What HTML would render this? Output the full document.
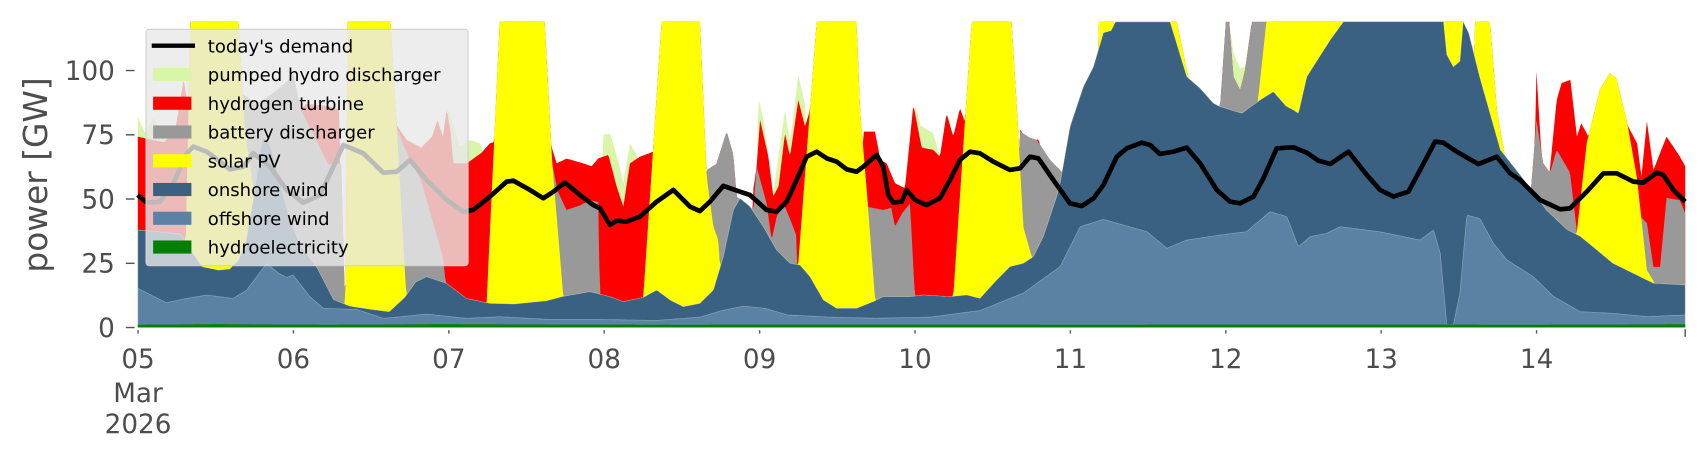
<!DOCTYPE html>
<html><head><meta charset="utf-8"><style>
html,body{margin:0;padding:0;background:#fff;}
svg{display:block;}
text{font-family:"DejaVu Sans","Liberation Sans",sans-serif;}
</style></head><body>
<svg id="c" width="1706" height="460" viewBox="0 0 1560 420.65" xmlns="http://www.w3.org/2000/svg">
<g id="layers"></g>
<polyline id="dem" fill="none" stroke="#000" stroke-width="4.3" stroke-linejoin="round" points=""/>
<rect x="133.5" y="26.8" width="294.5" height="216.2" rx="3" fill="#e8e8e8" fill-opacity="0.8" stroke="#d0d0d0" stroke-width="1"/>
<g font-size="16.5" fill="#000">
<line x1="138.7" y1="41.8" x2="178.3" y2="41.8" stroke="#000" stroke-width="4"/>
<text x="190" y="47.8">today's demand</text>
<rect x="140" y="62.1" width="35" height="12" fill="#d8f5a8"/><text x="190" y="74.1">pumped hydro discharger</text>
<rect x="140" y="88.4" width="35" height="12" fill="#ff0000"/><text x="190" y="100.4">hydrogen turbine</text>
<rect x="140" y="114.7" width="35" height="12" fill="#999999"/><text x="190" y="126.7">battery discharger</text>
<rect x="140" y="141" width="35" height="12" fill="#ffff00"/><text x="190" y="153">solar PV</text>
<rect x="140" y="167.3" width="35" height="12" fill="#3b6182"/><text x="190" y="179.3">onshore wind</text>
<rect x="140" y="193.6" width="35" height="12" fill="#5b82a5"/><text x="190" y="205.6">offshore wind</text>
<rect x="140" y="219.9" width="35" height="12" fill="#008000"/><text x="190" y="231.9">hydroelectricity</text>
</g>
<g fill="#4d4d4d" font-size="24" text-anchor="end">
<text x="105" y="308">0</text>
<text x="105" y="249.3">25</text>
<text x="105" y="190.5">50</text>
<text x="105" y="131.8">75</text>
<text x="105" y="73">100</text>
</g>
<g stroke="#555" stroke-width="1.3">
<line x1="115" y1="299.5" x2="123" y2="299.5"/>
<line x1="115" y1="240.8" x2="123" y2="240.8"/>
<line x1="115" y1="182" x2="123" y2="182"/>
<line x1="115" y1="123.3" x2="123" y2="123.3"/>
<line x1="115" y1="64.5" x2="123" y2="64.5"/>
</g>
<g id="xt" stroke="#555" stroke-width="1.3"></g>
<g id="xl" fill="#4d4d4d" font-size="24" text-anchor="middle"></g>
<text transform="translate(43,160) rotate(-90)" text-anchor="middle" font-size="30" fill="#4d4d4d">power [GW]</text>
</svg>
<script>
var X0=126,X1=1541;
function interp(spec){var a=[];for(var x=X0;x<=X1;x++){var y=300;
 if(x>=spec[0][0]&&x<=spec[spec.length-1][0]){for(var i=0;i<spec.length-1;i++){var p=spec[i],q=spec[i+1];if(x>=p[0]&&x<=q[0]){var t=q[0]==p[0]?0:(x-p[0])/(q[0]-p[0]);y=p[1]+(q[1]-p[1])*t;break;}}}
 a.push(y);}return a;}
function P(s){var r=[];for(var i=0;i<s.length;i+=2)r.push([s[i],s[i+1]]);return r;}
var hydro=P([126,297,200,296.5,300,297,400,296.5,600,297,800,296.8,1000,297,1200,296.8,1400,297,1541,296.6]);
var off=P([126,263.7,152,276.8,170,273,189,269.8,213,272.9,225.6,265.2,243.8,240.8,255,250,262,253.7,268,251.5,283.5,271.3,295.7,282,326,282.9,350.5,291.1,390,287.2,426.7,291.1,457,289.6,500,292,540,292,600,293,640,290,660,284,680,280,700,282,720,288,760,290,800,291,850,290,896,284,935.7,268,969.4,243.8,987.7,207.3,1009,200.6,1048.6,211.8,1067,227,1085.2,219.5,1115.7,214.9,1140,211.8,1161.4,193.5,1176.7,198.1,1187.3,225.5,1198,216.4,1213.2,213.4,1225.4,207.3,1262,212,1298.6,219.5,1310.8,210.3,1317,231.6,1323,297,1329,297,1335,268,1341.3,196.6,1353.4,200,1365.6,222.5,1378,237.7,1402,253,1420.5,271,1445,285,1475,286.5,1506,289.5,1541,288]);
var on=P([126,210.3,150,212.5,165,214,175,230,185,244,200,247,210,246,218,238,225,220,232,180,240,125,246,130,252,150,258,175,265,200,275,225,290,245,305,274,320,280,340,283,356,285,370,272,380,258,390,253,408,259,426.7,273,448,277.4,470,278,500,275,515,271,539.5,266.7,557.8,271.3,570,275.8,588.3,271.9,600.5,265.2,612.7,274.3,624.8,280.4,640,277.4,652.3,265.2,661.4,234.7,670.6,192,676.7,181.3,685.8,189,698,207.3,710.2,228.6,722.4,240.8,731.5,242.3,740.7,253,752.9,274.3,765,281.9,783.3,281.9,798.6,275.8,807.7,271.3,832.1,271.3,844.3,269.7,868.7,271.3,883.9,269.7,896.1,272.8,911.4,256,923.5,243.8,935.7,240.8,944.9,234.7,954,216.4,966.2,179.8,969.4,167.6,978.5,115.8,990.7,79.2,999.9,61,1009,30,1016,28,1020,20,1070,20,1085.2,70.1,1097.4,80.8,1109.6,94.5,1115.7,97.5,1135.5,103.6,1152.3,91.4,1164.5,83.8,1176,97,1182.8,100.6,1187.3,103.6,1195,70.1,1216.3,36.6,1228.5,19.8,1320,19.8,1323,50,1329,61,1335,56,1338,19.8,1343,30,1353,70,1372,137,1396,167.6,1414,192,1433,210,1445,216,1475,240.8,1512,259,1541,260.6]);
var sol=P([168,300,170,214,174,20,218,20,224,120,232,175,236,300,
314,300,316,260,318,20,357,20,363,120,371,262,376,300,
443,300,445,277,457,20,498,20,505,150,515,270,520,300,
586,300,588.3,271,605,20,640,20,646.2,161.6,652.3,207.3,656.8,219.4,662,300,
728,300,730,240.8,746.8,20,783.3,20,786.4,100.6,792.5,173.7,800.1,272.8,804,300,
870,300,871.7,271.3,888.5,20,925,20,931,119,935.7,207.3,943.4,234.7,947,300,
1003,300,1005,20,1018,20,1020,300,1068,300,1070,20,1076,20,1087,72,1090,300,
1146,300,1150,95,1158,20,1228,20,1232,300,
1318,300,1320,20,1338,20,1340,300,1347,300,1349,20,1362.6,20,1368.7,100,1375,137,1378,300,
1440,300,1442,212,1451,131,1463,82,1472,67,1478,71.6,1487.5,110,1496.7,161.6,1506,247,1512,257,1515,300]);
var bat=P([218,300,220,85,235,95,250,85,262,75,268,68,275,100,290,130,300,150,312,150,316,300,
357,300,360,110,372,140,385,165,395,200,405,235,412,300,
498,300,501,130,510,175,518,192,530,188,540,183,547,185,549,300,
645,300,647,155,655,150,664.5,120.4,670.6,141.7,673.6,180,682.8,186,688.8,192,691.9,152.4,701,186,705.6,219.4,710.2,198.1,716.3,186,722.4,200,728,215,731,300,
786,300,789,190,792.5,189,807.7,192,815,190,818.4,207.3,825,195,832.1,186,835,240.8,838,300,
930,300,932.7,120.4,941.8,126,948,128,960.2,146.3,972.2,158.5,975,300,
1110,300,1115.7,97.5,1121,20,1124,20,1127.9,70,1134,82.3,1138.6,64,1144.7,20,1162,20,1164,300,
1398,300,1400.7,164.6,1405,110,1411,149,1417.4,158,1423.5,137,1435.7,158,1442,212,1444,300,
1498,300,1500,198,1506,204,1512,244,1518,244,1524,181,1536,183,1541,195]);
var h2=P([126,125,135,127,150,130,160,120,168,73,172,100,174,300,
272,300,275,100,280,95,300,97,310,100,314,300,
360,300,363,115,372,128,385,135,395,125,400,110,405,125,408.4,100,412,120,414.5,149.4,426.7,149.4,440,140,448,131,454.1,129.5,457,300,
500,300,503,130,509,149.4,518,145,533.4,149.4,541,152,547.1,144.8,556.3,141.7,563.9,170.7,570,189,576,149.4,585.2,143.3,597.4,138.7,603,300,
686,300,688.8,173.7,691.9,152.4,695,109.7,702.6,143.3,707.1,179.8,712,170,717.8,121.9,722.4,143.3,730,91.4,736.1,115.8,740.7,100.6,745,300,
786,300,789.5,120.4,800.1,120.4,805,146,810.8,149.4,818.4,167.6,827.5,172.2,835.2,96,842.8,135,853.4,137,859.5,143.3,865.6,103.6,871.7,125,877.8,99,883.9,115.8,888,300,
930,300,932.7,118,941.8,134,949.5,127,954,143.3,958,300,
1400,300,1405,65.5,1410,149,1417,158,1423.5,91.4,1428,76,1436,73,1442,125,1446,112.8,1452.5,125,1457,116,1462,300,
1486,300,1489,116,1497,131,1501,161.6,1506,111,1512,155.5,1518,140,1524,125,1536,143,1541,152]);
var ph=P([126,106.7,132.6,122,140,108,150,123,160,120,166,300,
405,300,408,100,411.5,103.6,420.6,134,429.7,128,438.9,131,445,149.4,447,300,
545,300,551.7,123.4,557.8,121.9,566,150,570,167.6,576,131,582.2,141.7,587,300,
690,300,693.4,88.4,699,115,707.1,176.8,717.8,100.6,722.4,130,730,68.6,736,95,740,300,
833,300,836.7,96,842,115,853.4,121.9,859.5,143.3,865.6,103.6,871.7,125,877.8,99,880,300,
1119,300,1121.8,20,1124,20,1127.9,48.8,1134,62.5,1138.6,61,1144.7,20,1146,300]);
var specs=[hydro,off,on,sol,bat,h2,ph];
var cols=["#008000","#5b82a5","#3b6182","#ffff00","#999999","#ff0000","#d8f5a8"];
var prev=null,arrs=[];
for(var k=0;k<specs.length;k++){var a=interp(specs[k]);
 if(prev){for(var i=0;i<a.length;i++){a[i]=Math.min(a[i],prev[i]);}}
 for(var i=0;i<a.length;i++){a[i]=Math.max(a[i],19.8);}
 arrs.push(a);prev=a;}
var g=document.getElementById("layers"),ns="http://www.w3.org/2000/svg";
for(var k=arrs.length-1;k>=0;k--){var a=arrs[k];var d="M"+X0+",299.5";
 for(var i=0;i<a.length;i++)d+="L"+(X0+i)+","+a[i].toFixed(1);
 d+="L"+X1+",299.5Z";var p=document.createElementNS(ns,"path");p.setAttribute("d",d);p.setAttribute("fill",cols[k]);
 if(k==1||k==2){p.setAttribute("stroke","#ffffff");p.setAttribute("stroke-opacity","0.35");p.setAttribute("stroke-width","0.6");}
 g.appendChild(p);}
var dem=[125.9,178.3,134.1,185.3,146.3,184.4,158.5,167.6,170.7,140.2,176.8,134.1,189,138.7,210.3,154.8,222.5,152.4,231.6,140.2,246.9,152.4,262.1,173.7,277.3,185.3,292.6,178.3,304.8,152.4,313.9,132.6,332.2,140.2,350.5,157.9,362.7,157,374.9,146.3,390.1,164.6,408.4,182.9,423.6,193.5,432.8,192,448,179.8,463.3,166.1,469.4,165.2,484.6,173.7,496.8,181.3,506,175.3,516.6,167,530.3,178.3,542.5,187.5,548.6,190.5,557.8,205.7,563.9,201.8,573,202.7,585.2,198.1,600.5,184.4,615.7,173.7,631,189,640,193,649.2,184.4,661.4,170,676.7,175.3,685.8,178.3,701,192,710.2,193.5,719.3,184.4,728.5,164.6,737.6,143.3,746.8,138.7,756,144.8,765,147.8,774.2,154.8,783.3,157,789.5,152.4,801.6,141.7,807.7,152.4,812.3,178.3,816.9,185.3,824.5,184.4,829.1,173.7,836.7,182.9,847.3,187.5,859.5,181.3,868.7,164.6,877.8,146.3,887,138.7,896.1,140.2,908.3,147.8,923.5,155.4,932.7,153.9,941.8,143.3,949.5,144.8,963.2,164.6,978.4,185.9,989.2,188.4,999.9,181.4,1009,169.2,1021.2,143.3,1030.4,135.6,1044,130.5,1051.7,132.6,1060.8,140.8,1073,138.7,1085.2,135,1097.4,149.4,1112.7,173.7,1124.8,184.4,1134,185.9,1146.2,179.8,1155.3,163,1167.5,135.6,1182.8,134.7,1195,139.6,1205.6,146.9,1216.3,150,1233.1,138.7,1249.8,160,1262,173.7,1274.2,179.8,1287.9,175.3,1298.6,155.4,1312.3,129.5,1319.9,130.5,1332.1,138.7,1351.9,150,1368.7,143.3,1380.9,158.5,1390,164.6,1408.3,182.9,1426.6,191.4,1435.7,190.5,1451,175.3,1466.2,158.5,1478.4,158.5,1493.6,166.1,1502.8,167,1515,157.9,1521,160,1530.2,173.7,1541,184.4];
var s="";for(var i=0;i<dem.length;i+=2)s+=dem[i]+","+dem[i+1]+" ";
document.getElementById("dem").setAttribute("points",s);
var xt=document.getElementById("xt"),xl=document.getElementById("xl");
var labs=["05","06","07","08","09","10","11","12","13","14"];
for(var d=0;d<10;d++){var x=126.2+142.1*d;
 var l=document.createElementNS(ns,"line");l.setAttribute("x1",x);l.setAttribute("x2",x);l.setAttribute("y1",302);l.setAttribute("y2",305);xt.appendChild(l);
 var t=document.createElementNS(ns,"text");t.setAttribute("x",x);t.setAttribute("y",336.5);t.textContent=labs[d];xl.appendChild(t);}
var l=document.createElementNS(ns,"line");l.setAttribute("x1",1541);l.setAttribute("x2",1541);l.setAttribute("y1",301);l.setAttribute("y2",308);xt.appendChild(l);
var t1=document.createElementNS(ns,"text");t1.setAttribute("x",126.2);t1.setAttribute("y",367.6);t1.textContent="Mar";xl.appendChild(t1);
var t2=document.createElementNS(ns,"text");t2.setAttribute("x",126.2);t2.setAttribute("y",396);t2.textContent="2026";xl.appendChild(t2);
</script>
</body></html>
